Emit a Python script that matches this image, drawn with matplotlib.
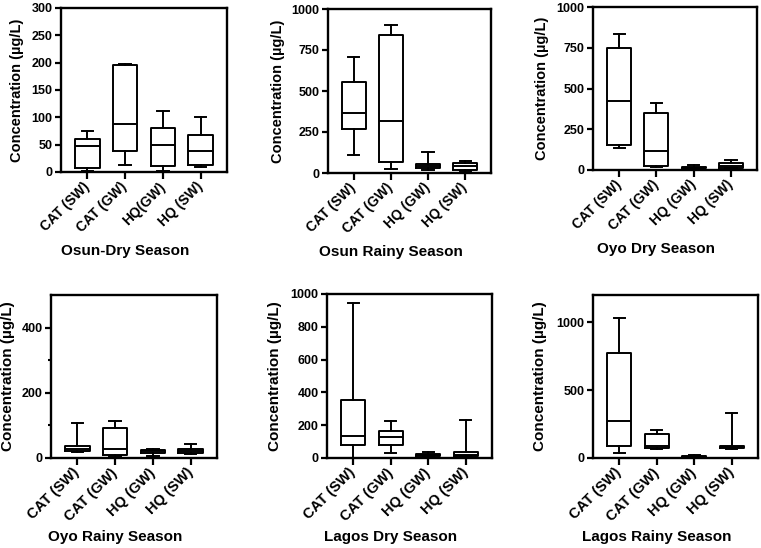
import matplotlib
matplotlib.use('Agg')
import matplotlib.pyplot as plt
from matplotlib.transforms import ScaledTranslation

plt.rcParams['font.family'] = ['Liberation Sans', 'DejaVu Sans']
plt.rcParams['font.weight'] = 'bold'

labels = ['CAT (SW)', 'CAT (GW)', 'HQ (GW)', 'HQ (SW)']
labels_osun_dry = ['CAT (SW)', 'CAT (GW)', 'HQ(GW)', 'HQ (SW)']

# five-number summaries per group: min, Q1, median, Q3, max (µg/L)
osun_dry = [[2, 7, 47, 60, 75], [13, 38, 87, 195, 197], [2, 11, 50, 81, 112], [10, 12, 38, 68, 101]]
osun_rainy = [[112, 269, 365, 553, 710], [24, 69, 320, 841, 900], [20, 33, 42, 52, 131], [12, 16, 43, 63, 73]]
oyo_dry = [[137, 155, 422, 750, 836], [16, 24, 114, 351, 408], [6, 10, 14, 20, 33], [10, 14, 22, 41, 59]]
oyo_rainy = [[17, 20, 28, 38, 106], [5, 8, 27, 91, 113], [6, 15, 21, 26, 29], [11, 14, 22, 29, 44]]
lagos_dry = [[2, 79, 136, 352, 945], [31, 77, 126, 163, 228], [4, 10, 16, 24, 37], [4, 10, 20, 37, 232]]
lagos_rainy = [[37, 91, 275, 774, 1029], [68, 75, 88, 174, 204], [5, 7, 10, 15, 22], [68, 72, 84, 91, 332]]

titles = ['Osun-Dry Season', 'Osun Rainy Season', 'Oyo Dry Season',
          'Oyo Rainy Season', 'Lagos Dry Season', 'Lagos Rainy Season']
panels = [osun_dry, osun_rainy, oyo_dry, oyo_rainy, lagos_dry, lagos_rainy]
xlabels = [labels_osun_dry, labels, labels, labels, labels, labels]
ylims = [300, 1000, 1000, 500, 1000, 1200]
yticks = [range(0, 301, 50), range(0, 1001, 250), range(0, 1001, 250),
          [0, 200, 400], range(0, 1001, 200), [0, 500, 1000]]

W, H = 761, 548
# axes boxes in pixels: left, top, width, bottom
boxes = [(61, 8, 166, 172), (328, 9, 163, 173), (593, 7, 164, 170),
         (51, 295, 166, 458), (327, 294, 165, 458), (593, 295, 165, 458)]
ylab_px = [17, 278, 542, 8, 275, 540]

fig = plt.figure(figsize=(W / 100, H / 100), dpi=100)
shift = ScaledTranslation(5 / 100, -2 / 100, fig.dpi_scale_trans)

for i, data in enumerate(panels):
    l, t, w, b = boxes[i]
    bottom_row = i >= 3
    ax = fig.add_axes([l / W, 1 - b / H, w / W, (b - t) / H])
    stats = [dict(whislo=d[0], q1=d[1], med=d[2], q3=d[3], whishi=d[4], fliers=[])
             for d in data]
    lw = 1.4
    ax.bxp(stats, positions=[1, 2, 3, 4], widths=0.65, capwidths=0.3,
           showfliers=False,
           boxprops=dict(color='black', linewidth=lw),
           whiskerprops=dict(color='black', linewidth=lw),
           capprops=dict(color='black', linewidth=lw),
           medianprops=dict(color='black', linewidth=lw))
    ax.set_xlim(0.3, 4.7)
    ax.set_ylim(0, ylims[i])
    ax.set_yticks(list(yticks[i]))
    if i == 3:
        ax.set_yticks([100, 300], minor=True)
        ax.tick_params(axis='y', which='minor', length=2.5, width=1.5)
    ax.set_xticks([1, 2, 3, 4])
    ax.set_xticklabels(xlabels[i], rotation=45, ha='right', va='center',
                       rotation_mode='anchor',
                       fontsize=10.5 if bottom_row else 10, fontweight='bold')
    for lab in ax.get_xticklabels():
        lab.set_transform(lab.get_transform() + shift)
    for lab in ax.get_yticklabels():
        lab.set_fontweight('bold')
    ax.tick_params(axis='y', which='major', length=4, width=1.6, labelsize=9, pad=2)
    ax.tick_params(axis='x', length=5, width=1.6, pad=4)
    for sp in ax.spines.values():
        sp.set_linewidth(1.7)

    ax.set_ylabel('Concentration (µg/L)', fontsize=11 if bottom_row else 10.5,
                  fontweight='bold')
    ax.yaxis.set_label_coords((ylab_px[i] + 7 - l) / w, 0.5)
    ax.set_xlabel(titles[i], fontsize=11, fontweight='bold')
    ax.xaxis.set_label_coords((w / 2 - 19) / w, -72 / (b - t))

fig.savefig('out.png', dpi=100)
